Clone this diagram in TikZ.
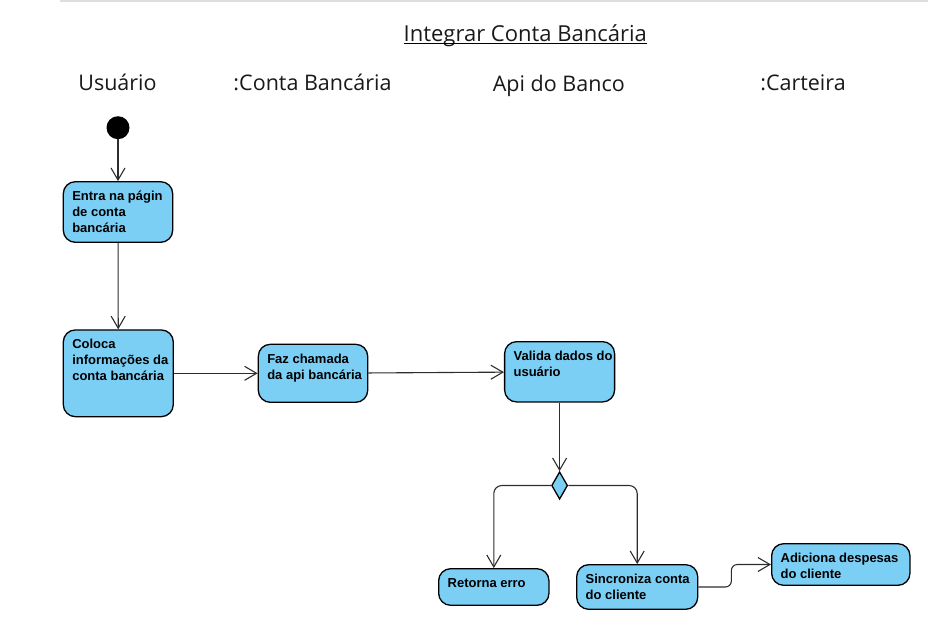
\documentclass[tikz,border=0pt]{standalone}
\usepackage{xcolor}
\usepackage{fontspec}
\setmainfont{Open Sans}
\newfontfamily\boxfont{Liberation Sans}
\usetikzlibrary{arrows.meta,shapes.geometric}

\definecolor{actblue}{RGB}{123,207,245}
\definecolor{lanegray}{RGB}{222,222,222}
\definecolor{edgegray}{RGB}{45,45,45}

% text of an activity: top-left aligned inside a box of given size
\newcommand{\acttext}[3]{\parbox[c][#2pt][t]{#1pt}{\boxfont\bfseries\fontsize{13}{15.7}\selectfont\leftskip=9pt\rightskip=-60pt plus 1fil\rule{0pt}{19pt}#3}}

\begin{document}
\begin{tikzpicture}[x=1pt,y=-1pt]
			\tikzstyle{lane} = [font=\fontsize{21.5}{26}\selectfont, text=black!90, inner sep=0pt, anchor=base]
			\tikzstyle{state} = [draw, fill=actblue, line width=1.3pt, rounded corners=12pt, inner sep=0pt]
			\tikzstyle{start} = [circle, fill=black, minimum size=23pt, inner sep=0pt]
			\tikzstyle{choice} = [diamond, draw, fill=actblue, line width=1.3pt, minimum width=16pt, minimum height=27.5pt, inner sep=0pt]
			\tikzset{edge/.style = {draw=edgegray, line width=1.1pt, -{Straight Barb[length=12pt,width=14pt]}}}
			
			\useasboundingbox (0,0) rectangle (928,640);
			\draw[lanegray, line width=2pt] (60,1) -- (928,1);
			
			\node[lane, font=\fontsize{22}{26}\selectfont](titulo) at (525.3,41) {Integrar Conta Bancária};
			\draw[line width=1.3pt] ([yshift=-2.5pt]titulo.base west) -- ([yshift=-2.5pt]titulo.base east);
			
			\node[lane](usuario) at (117.5,90) {Usuário};
			\node[lane](conta) at (312.5,90) {:Conta Bancária};
			\node[lane](api) at (558.8,91) {Api do Banco};
			\node[lane](carteira) at (803,90) {:Carteira};
			
			\node[start](init) at (118,127.7) {};
			\node[state](entra) at (118,212) {\acttext{109.4}{60.6}{Entra na págin\\de conta\\bancária}};
			\node[state](coloca) at (118.3,373.3) {\acttext{110}{86.7}{Coloca\\informações da\\conta bancária}};
			\node[state](faz) at (313,373.3) {\acttext{109.4}{58}{Faz chamada\\da api bancária}};
			\node[state](valida) at (559.6,371.8) {\acttext{110}{60.3}{Valida dados do\\usuário}};
			\node[choice](decisao) at (559.6,485.5) {};
			\node[state](retorna) at (493.8,587) {\acttext{110.3}{36.6}{Retorna erro}};
			\node[state](sincroniza) at (637.2,587) {\acttext{121}{44.6}{Sincroniza conta\\do cliente}};
			\node[state](adiciona) at (840.8,564.5) {\acttext{138.3}{41.6}{Adiciona despesas\\do cliente}};
			
			\draw[edge](init.south) to (init.south |- entra.north);
			\draw[edge](entra) to (coloca);
			\draw[edge](coloca) to (faz);
			\draw[edge](faz) to (valida);
			\draw[edge](valida) to (decisao);
			\draw[edge, rounded corners=8pt](decisao.west) -| (retorna.north);
			\draw[edge, rounded corners=8pt](decisao.east) -| (sincroniza.north);
			\draw[edge, rounded corners=6pt](sincroniza.east) -- ++(33,0) |- (adiciona.west);
			
			\end{tikzpicture}
\end{document}
